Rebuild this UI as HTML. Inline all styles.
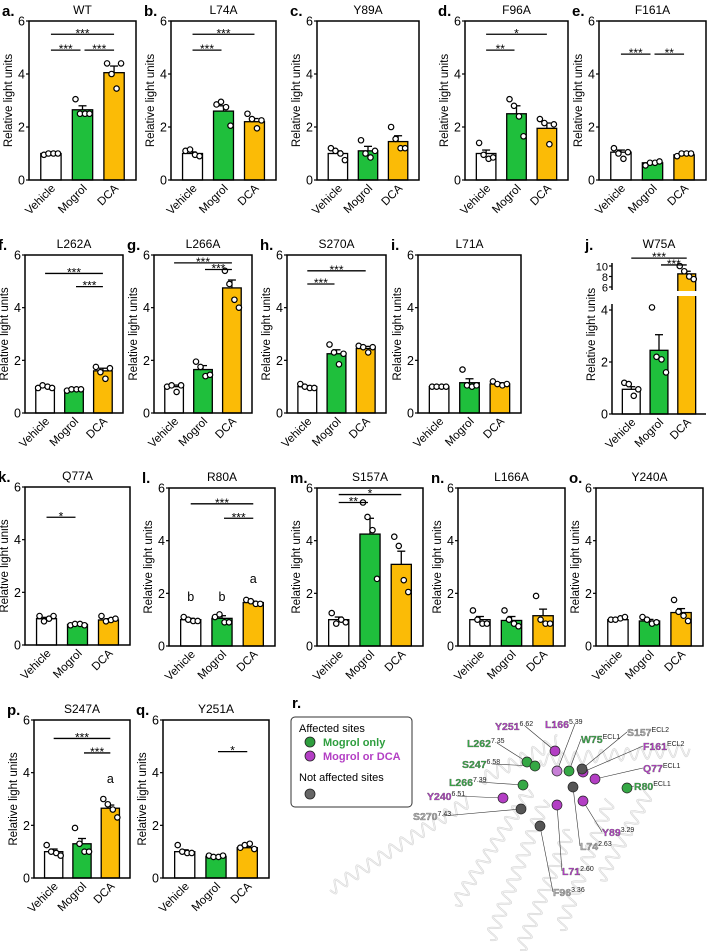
<!DOCTYPE html>
<html><head><meta charset="utf-8">
<style>
html,body{margin:0;padding:0;background:#fff;}
svg{display:block;font-family:"Liberation Sans",Arial,sans-serif;}
</style></head>
<body>
<svg id="fig" width="707" height="951" viewBox="0 0 707 951" xmlns="http://www.w3.org/2000/svg"></svg>
<script>
// ---- data ----
const categories = ["Vehicle","Mogrol","DCA"];
const panelLetters = ["a","b","c","d","e","f","g","h","i","j","k","l","m","n","o","p","q"];
const panelTitles = ["WT","L74A","Y89A","F96A","F161A","L262A","L266A","S270A","L71A","W75A","Q77A","R80A","S157A","L166A","Y240A","S247A","Y251A"];
const yTicks = [0,2,4,6];
const vehicleMeans = [1.0,1.0,1.0,1.0,1.05,1.0,1.0,1.0,1.0,0.95,1.0,1.0,1.0,1.0,1.0,1.0,1.0];
const mogrolMeans  = [2.65,2.6,1.1,2.5,0.65,0.88,1.65,2.25,1.15,2.45,0.78,1.05,4.25,0.97,0.95,1.3,0.82];
const dcaMeans     = [4.05,2.2,1.45,1.95,0.95,1.6,4.75,2.45,1.1,8.5,0.95,1.65,3.1,1.15,1.27,2.65,1.15];
const vehicleErr = [0.05,0.06,0.1,0.13,0.08,0.03,0.06,0.04,0.03,0.1,0.05,0.05,0.1,0.12,0.03,0.1,0.07];
const mogrolErr  = [0.15,0.2,0.17,0.3,0.03,0.02,0.15,0.15,0.15,0.6,0.03,0.1,0.6,0.15,0.06,0.2,0.03];
const dcaErr     = [0.25,0.12,0.22,0.2,0.02,0.1,0.3,0.08,0.05,0.5,0.05,0.05,0.5,0.25,0.15,0.12,0.06];
const vehiclePts = [[0.95,1.0,1.0,1.0],[1.1,1.15,0.95,0.9],[1.2,1.1,1.0,0.75],[1.4,0.95,0.8,0.85],[1.2,1.0,0.8,1.05],[0.95,1.05,1.0,0.95],[1.0,1.05,0.8,1.05],[1.1,1.0,0.95,0.95],[1.0,1.0,1.0,1.0],[1.2,1.15,0.7,0.95],[1.1,0.9,1.0,1.1],[1.1,1.0,0.95,0.95],[1.25,0.85,1.0,0.9],[1.35,1.0,0.85,0.85],[1.0,1.0,1.05,1.1],[1.25,1.0,0.95,0.85],[1.25,1.0,0.95,0.95]];
const mogrolPts  = [[3.05,2.5,2.5,2.5],[2.85,2.95,2.75,2.05],[1.5,1.0,0.85,1.1],[3.05,2.8,2.4,1.65],[0.55,0.65,0.65,0.7],[0.85,0.9,0.9,0.9],[1.95,1.75,1.4,1.45],[2.6,2.3,1.85,2.25],[1.65,1.05,1.0,1.05],[4.1,2.2,2.1,1.6],[0.75,0.8,0.8,0.75],[1.1,1.2,0.9,0.9],[5.45,4.9,4.4,2.55],[1.35,1.0,0.85,0.75],[1.1,1.0,0.85,0.9],[1.9,1.3,1.0,1.0],[0.85,0.8,0.8,0.85]];
const dcaPts     = [[4.4,4.0,3.45,4.4],[2.5,2.3,1.95,2.25],[2.0,1.55,1.2,1.2],[2.3,2.15,1.35,2.1],[0.9,1.0,1.0,1.0],[1.75,1.55,1.3,1.7],[5.4,4.9,4.3,4.0],[2.55,2.5,2.3,2.5],[1.2,1.1,1.05,1.1],[10,9,8,7.5],[1.1,0.9,0.95,1.0],[1.75,1.7,1.6,1.6],[4.15,3.8,2.5,2.05],[1.9,1.0,0.85,0.85],[1.75,1.3,1.15,0.95],[3.0,2.8,2.6,2.3],[1.15,1.25,1.3,1.1]];
// significance: [panelIndex, fromBar, toBar, level, label]
const sigPanel = [0,0,0,1,1,3,3,4,4,5,5,6,6,7,7,9,9,10,11,11,12,12,15,15,16];
const sigFrom  = [0,0,1,0,0,0,0,0,1,0,1,0,1,0,0,0,1,0,0,1,0,0,0,1,1];
const sigTo    = [2,1,2,2,1,2,1,1,2,2,2,2,2,2,1,2,2,1,2,2,2,1,2,2,2];
const sigLevel = [5.5,4.9,4.9,5.5,4.9,5.5,4.9,4.75,4.75,5.3,4.8,5.7,5.45,5.4,4.9,11.5,10.2,4.85,5.4,4.85,5.75,5.45,5.3,4.75,4.8];
const sigText  = ["***","***","***","***","***","*","**","***","**","***","***","***","***","***","***","***","***","*","***","***","*","**","***","***","*"];
// group letters
const letterPanel = [11,11,11,15];
const letterBar   = [0,1,2,2];
const letterLevel = [1.7,1.7,2.4,3.6];
const letterText  = ["b","b","a","a"];

// ---- layout (not data) ----
const boxes = [
 [29,136,21,180],[171,276,21,180],[317,419,21,180],[465,568,21,180],[599,706,21,180],
 [25,123,255,413],[154,252,255,413],[287,386,255,413],[418,521,255,413],[612,706,255,414],
 [25,130,487,645],[169,275,488,646],[317,423,488,646],[458,565,488,646],[596,703,488,646],
 [34,130,720,878],[163,269,720,878]];
const colors = ["#ffffff","#1fbf3c","#fbbb06"];
const NS="http://www.w3.org/2000/svg";
const svg=document.getElementById('fig');
function mk(tag,attrs,parent){const e=document.createElementNS(NS,tag);for(const k in attrs)e.setAttribute(k,attrs[k]);(parent||svg).appendChild(e);return e;}

const means=[vehicleMeans,mogrolMeans,dcaMeans], errs=[vehicleErr,mogrolErr,dcaErr], pts=[vehiclePts,mogrolPts,dcaPts];
const offs=[-7,-2.5,2.5,7];

for(let p=0;p<boxes.length;p++){
  const [L,R,T,B]=boxes[p]; const W=R-L;
  const broken=(p===9);
  const g=mk('g',{});
  
  
  let ys;
  if(!broken){ys=v=>B-(v/6)*(B-T);}
  else{ys=v=> v<=4.3 ? B-v*26 : 287-(v-6)*5.25;}
  const xs=i=>L+W*[0.205,0.5,0.795][i];
  const bw=W*0.19;
  const lt=mk('text',{x:L-27,y:T-5,'font-size':15,'font-weight':'bold'},g);lt.textContent=panelLetters[p]+'.';
  
  const tt=mk('text',{x:(L+R)/2,y:T-7,'font-size':12,'text-anchor':'middle'},g);tt.textContent=panelTitles[p];
  
  const yt=mk('text',{x:0,y:0,'font-size':11.5,'text-anchor':'middle',transform:`translate(${L-17},${(T+B)/2}) rotate(-90)`},g);
  yt.textContent='Relative light units';
  
  const tickVals = broken?[0,2,4,6,8,10]:yTicks;
  tickVals.forEach(v=>{const y=ys(v);
    mk('line',{x1:L-3,x2:L,y1:y,y2:y,stroke:'#000','stroke-width':1.2},g);
    const t=mk('text',{x:L-4,y:y+4.5,'font-size':broken&&v>=6?11:12.5,'text-anchor':'end'},g);t.textContent=v;
    });
  for(let i=0;i<3;i++){
    const m=means[i][p], e=errs[i][p], cx=xs(i);
    const r=mk('rect',{x:cx-bw/2,y:ys(m),width:bw,height:B-ys(m),fill:colors[i],stroke:'#000','stroke-width':1.3},g);
    
    mk('line',{x1:cx,x2:cx,y1:ys(m),y2:ys(m+e),stroke:'#000','stroke-width':1.3},g);
    mk('line',{x1:cx-4,x2:cx+4,y1:ys(m+e),y2:ys(m+e),stroke:'#000','stroke-width':1.3},g);
    pts[i][p].forEach((v,k)=>{const c=mk('circle',{cx:cx+offs[k],cy:ys(v),r:2.7,fill:'#fff',stroke:'#000','stroke-width':1.2},g);
      });
    const xl=mk('text',{x:0,y:0,'font-size':11.5,'text-anchor':'end',transform:`translate(${cx+5},${B+9}) rotate(-45)`},g);
    xl.textContent=categories[i];
    
  }
  if(!broken){
    mk('rect',{x:L,y:T,width:W,height:B-T,fill:'none',stroke:'#000','stroke-width':1.5},g);
  } else {
    mk('line',{x1:L,x2:L,y1:B,y2:304,stroke:'#000','stroke-width':1.5},g);
    mk('line',{x1:L,x2:L,y1:290,y2:263,stroke:'#000','stroke-width':1.5},g);
    mk('line',{x1:L,x2:R,y1:B,y2:B,stroke:'#000','stroke-width':1.5},g);
    mk('rect',{x:L+1,y:291,width:W,height:5,fill:'#fff'},g);
  }
}
for(let s=0;s<sigPanel.length;s++){
  const p=sigPanel[s];const [L,R,T,B]=boxes[p];const W=R-L;
  const ys = p===9 ? (v=>287-(v-6)*5.25) : (v=>B-(v/6)*(B-T));
  const xa=L+W*[0.205,0.5,0.795][sigFrom[s]], xb=L+W*[0.205,0.5,0.795][sigTo[s]];
  const adj = (sigTo[s]-sigFrom[s]===1);
  const x1=xa+(adj&&sigFrom[s]===1?2:0), x2=xb-(adj&&sigTo[s]===1?2:0);
  const y=ys(sigLevel[s]);
  const ln=mk('line',{x1:x1,x2:x2,y1:y,y2:y,stroke:'#000','stroke-width':1.3});
  
  const t=mk('text',{x:(x1+x2)/2,y:y+3,'font-size':12,'text-anchor':'middle'});t.textContent=sigText[s];
  
}
for(let s=0;s<letterPanel.length;s++){
  const p=letterPanel[s];const [L,R,T,B]=boxes[p];const W=R-L;
  const t=mk('text',{x:L+W*[0.205,0.5,0.795][letterBar[s]],y:B-(letterLevel[s]/6)*(B-T),'font-size':12.5,'text-anchor':'middle'});
  t.textContent=letterText[s];
  
}

// ---- panel r: structure ----
const rg=mk('g',{});

const rl=mk('text',{x:292,y:708,'font-size':15,'font-weight':'bold'},rg);rl.textContent='r.';

const helices=[[330,890,470,800],[455,905,530,790],[490,940,545,800],[520,950,570,830],[560,930,610,800],[600,880,650,790],[480,780,560,740],[540,760,690,750]];
helices.forEach(h=>{
  const [x1,y1,x2,y2]=h;const L=Math.hypot(x2-x1,y2-y1);
  const ux=(x2-x1)/L,uy=(y2-y1)/L,nx=-uy,ny=ux;
  let d='';for(let s=0;s<=L;s+=1){const a=Math.sin(s*Math.PI*2/13)*6;
    const x=x1+ux*s+nx*a,y=y1+uy*s+ny*a;d+=(s?'L':'M')+x.toFixed(1)+','+y.toFixed(1);}
  mk('path',{d:d,fill:'none',stroke:'#c4c4c4','stroke-width':2,opacity:0.7},rg);
  mk('path',{d:d,fill:'none',stroke:'#f4f4f4','stroke-width':0.8},rg);
});
const lg=mk('g',{},rg);
mk('rect',{x:291,y:717,width:121,height:90,rx:4,fill:'#fff',stroke:'#333','stroke-width':1},lg);
[['Affected sites',732,null,'#000'],['Mogrol only',746,'#2e9e3e','#2e9e3e'],['Mogrol or DCA',760,'#b33ec4','#b33ec4'],['Not affected sites',781,null,'#000']].forEach(e=>{
  const t=mk('text',{x:e[2]?323:299,y:e[1],'font-size':11,'font-weight':e[2]?'bold':'normal',fill:e[3]},lg);t.textContent=e[0];
  
  if(e[2])mk('circle',{cx:310,cy:e[1]-4,r:5,fill:e[2],stroke:'#222','stroke-width':0.8},lg);
});
mk('circle',{cx:310,cy:794,r:5,fill:'#666',stroke:'#222','stroke-width':0.8},lg);
const G='#35a845',P='#b33ec4',D='#555';
const spheres=[[527,762,G],[535,766,G],[523,785,G],[569,771,G],[627,788,G],[555,751,P],[557,771,'#c77fd6'],[583,772,P],[595,779,P],[503,798,P],[557,805,P],[583,801,P],[582,769,D],[573,787,D],[521,809,D],[540,826,D]];
const labs=[["Y251","6.62",495,730,P,555,751],["L166","5.39",545,728,P,557,771],["S157","ECL2",627,736,'#aaa',582,769],["W75","ECL1",581,743,G,569,771],["F161","ECL2",643,750,P,583,772],["L262","7.35",467,747,G,527,762],["S247","6.58",462,768,G,535,766],["Q77","ECL1",643,772,P,595,779],["L266","7.39",449,786,G,523,785],["R80","ECL1",634,790,G,627,788],["Y240","6.51",427,800,P,503,798],["S270","7.43",413,820,'#aaa',521,809],["Y89","3.29",602,836,P,583,801],["L74","2.63",580,850,'#aaa',573,787],["L71","2.60",562,875,P,557,805],["F96","3.36",553,896,'#aaa',540,826]];
labs.forEach(l=>{
  mk('line',{x1:l[2]+(l[2]<l[5]?30:0),y1:l[3]-4,x2:l[5],y2:l[6],stroke:'#333','stroke-width':0.6},rg);
});
spheres.forEach(s=>{const c=mk('circle',{cx:s[0],cy:s[1],r:5,fill:s[2],stroke:'#222','stroke-width':0.7},rg);
  });
labs.forEach(l=>{
  const t=mk('text',{x:l[2],y:l[3],'font-size':10.5,'font-weight':'bold',fill:l[4],stroke:'#555','stroke-width':0.3},rg);
  t.textContent=l[0];
  const s=mk('tspan',{'font-size':7,dy:-4,fill:'#222',stroke:'none','font-weight':'normal'},t);s.textContent=l[1];
  
});
</script>
</body></html>
